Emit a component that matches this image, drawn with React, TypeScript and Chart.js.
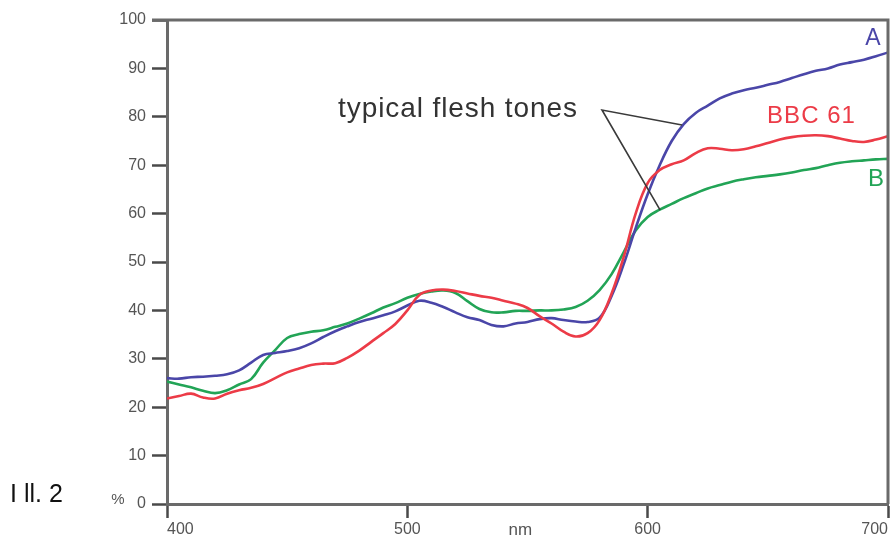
import React, { useEffect, useRef } from 'react';
import { Chart, registerables } from 'chart.js';

Chart.register(...registerables);

// ---- data ----
const wavelengths = [
  400, 405, 410, 415, 420, 425, 430, 435, 440, 445, 450, 455, 460, 465, 470, 475, 480, 485, 490, 495,
  500, 505, 510, 515, 520, 525, 530, 535, 540, 545, 550, 555, 560, 565, 570, 575, 580, 585, 590, 595,
  600, 605, 610, 615, 620, 625, 630, 635, 640, 645, 650, 655, 660, 665, 670, 675, 680, 685, 690, 695, 700,
];

const seriesA = [
  26.0, 25.9, 26.2, 26.3, 26.5, 26.8, 27.6, 29.2, 30.8, 31.2, 31.6, 32.2, 33.2, 34.5, 35.7, 36.7, 37.6, 38.3, 39.0, 39.8,
  41.0, 42.0, 41.6, 40.7, 39.6, 38.6, 38.0, 37.0, 36.7, 37.3, 37.6, 38.2, 38.4, 38.0, 37.7, 37.6, 38.5, 43.0, 49.5, 57.0,
  64.0, 70.0, 75.0, 78.5, 80.8, 82.3, 83.8, 84.8, 85.5, 86.0, 86.6, 87.2, 88.0, 88.8, 89.5, 90.0, 90.8, 91.3, 91.8, 92.5, 93.3,
];

const seriesBBC61 = [
  21.8, 22.3, 22.8, 22.0, 21.8, 22.8, 23.5, 24.0, 24.8, 26.0, 27.2, 28.0, 28.7, 29.0, 29.1, 30.2, 31.7, 33.5, 35.3, 37.2,
  40.0, 43.2, 44.1, 44.3, 44.0, 43.5, 43.0, 42.6, 42.0, 41.4, 40.5, 38.8, 37.3, 35.6, 34.6, 35.3, 38.0, 43.5, 51.0, 60.0,
  66.3, 69.0, 70.2, 71.0, 72.5, 73.5, 73.4, 73.1, 73.3, 73.9, 74.6, 75.3, 75.8, 76.1, 76.2, 76.0, 75.5, 75.0, 74.8, 75.3, 76.0,
];

const seriesB = [
  25.3, 24.7, 24.1, 23.4, 22.9, 23.5, 24.7, 25.8, 29.2, 31.8, 34.3, 35.1, 35.6, 35.9, 36.6, 37.3, 38.3, 39.4, 40.6, 41.5,
  42.6, 43.4, 43.9, 44.1, 43.6, 41.9, 40.3, 39.6, 39.6, 39.9, 39.9, 40.0, 40.0, 40.2, 40.7, 42.0, 44.2, 47.5, 52.0, 56.5,
  59.3, 60.8, 62.0, 63.2, 64.2, 65.2, 65.9, 66.6, 67.1, 67.5, 67.8, 68.1, 68.5, 69.0, 69.4, 70.0, 70.5, 70.8, 71.0, 71.2, 71.3,
];

const xTickValues = [400, 500, 600, 700];
const xUnitLabel = 'nm';
const xUnitValue = 547;
const yUnitLabel = '%';
const figureLabel = 'I ll. 2';
const calloutText = 'typical flesh tones';

// ---- styles ----
const FONT = '"Liberation Sans", Arial, Helvetica, sans-serif';
const BLUE = '#4a46a8';
const RED = '#ec3b47';
const GREEN = '#22a456';
const AXIS = '#6a6a6a';
const TICK = '#4a4a4a';
const LABEL = '#555555';

const decorPlugin = {
  id: 'decor',
  afterDatasetsDraw(chart: any) {
    const { ctx, chartArea, scales } = chart;
    const xs = scales.x;
    const ys = scales.y;
    const px = (v: number) => xs.getPixelForValue(v);
    const py = (v: number) => ys.getPixelForValue(v);
    ctx.save();

    // callout lines
    ctx.strokeStyle = '#3a3a3a';
    ctx.lineWidth = 1.6;
    ctx.beginPath();
    ctx.moveTo(px(614.3), py(78.3));
    ctx.lineTo(px(581), py(81.4));
    ctx.lineTo(px(605.2), py(60.7));
    ctx.stroke();

    ctx.textBaseline = 'alphabetic';
    ctx.textAlign = 'left';
    // callout text
    ctx.fillStyle = '#333333';
    ctx.font = `28px ${FONT}`;
    (ctx as any).letterSpacing = '0.9px';
    ctx.fillText(calloutText, px(471.2), py(80));

    // series labels
    ctx.font = `24px ${FONT}`;
    (ctx as any).letterSpacing = '1px';
    ctx.fillStyle = RED;
    ctx.fillText('BBC 61', px(649.7), py(78.7));
    (ctx as any).letterSpacing = '0px';
    ctx.font = `23px ${FONT}`;
    ctx.fillStyle = BLUE;
    ctx.fillText('A', px(690.5), py(94.8));
    ctx.font = `24px ${FONT}`;
    ctx.fillStyle = GREEN;
    ctx.fillText('B', px(691.7), py(65.7));

    // unit label % and figure label
    ctx.fillStyle = LABEL;
    ctx.font = `15px ${FONT}`;
    ctx.textAlign = 'center';
    ctx.textBaseline = 'middle';
    ctx.fillText(yUnitLabel, chartArea.left - 49, chartArea.bottom - 4);

    ctx.fillStyle = '#111111';
    ctx.font = `25px ${FONT}`;
    ctx.textAlign = 'left';
    ctx.textBaseline = 'alphabetic';
    ctx.fillText(figureLabel, 10, chartArea.bottom - 2);

    ctx.restore();
  },
  afterDraw(chart: any) {
    const { ctx, chartArea } = chart;
    ctx.save();
    ctx.strokeStyle = AXIS;
    ctx.lineWidth = 3;
    ctx.beginPath();
    ctx.moveTo(chartArea.left - 15, chartArea.top);
    ctx.lineTo(chartArea.right, chartArea.top);
    ctx.lineTo(chartArea.right, chartArea.bottom);
    ctx.stroke();
    ctx.restore();
  },
};

export default function App() {
  const canvasRef = useRef<HTMLCanvasElement | null>(null);

  useEffect(() => {
    if (!canvasRef.current) return;
    const mk = (arr: number[]) => wavelengths.map((x, i) => ({ x, y: arr[i] }));
    const chart = new Chart(canvasRef.current, {
      type: 'line',
      data: {
        datasets: [
          { label: 'BBC 61', data: mk(seriesBBC61), borderColor: RED, borderWidth: 2.6, pointRadius: 0, tension: 0.4, fill: false, order: 0 },
          { label: 'A', data: mk(seriesA), borderColor: BLUE, borderWidth: 2.6, pointRadius: 0, tension: 0.4, fill: false, order: 1 },
          { label: 'B', data: mk(seriesB), borderColor: GREEN, borderWidth: 2.6, pointRadius: 0, tension: 0.4, fill: false, order: 2 },
        ],
      },
      options: {
        animation: false,
        responsive: false,
        maintainAspectRatio: false,
        layout: { padding: { left: 0, top: 20, right: 7, bottom: 0 } },
        plugins: { legend: { display: false }, tooltip: { enabled: false } },
        scales: {
          x: {
            type: 'linear',
            min: 400,
            max: 700,
            afterBuildTicks: (scale: any) => {
              scale.ticks = [...xTickValues, xUnitValue].sort((a, b) => a - b).map((v) => ({ value: v }));
            },
            afterFit: (scale: any) => {
              scale.height = 34;
            },
            border: { display: true, color: AXIS, width: 3 },
            grid: {
              drawOnChartArea: false,
              drawTicks: true,
              tickLength: 14,
              tickWidth: 2.5,
              tickColor: (ctx: any) => (ctx.tick && ctx.tick.value === xUnitValue ? 'rgba(0,0,0,0)' : TICK),
            },
            ticks: {
              align: 'inner',
              padding: 2,
              color: LABEL,
              maxRotation: 0,
              autoSkip: false,
              font: (ctx: any) => ({ family: FONT, size: ctx.tick && ctx.tick.value === xUnitValue ? 17 : 16 }),
              callback: (v: any) => (v === xUnitValue ? xUnitLabel : String(v)),
            },
          },
          y: {
            type: 'linear',
            min: 0,
            max: 100,
            afterFit: (scale: any) => {
              scale.width = 167;
            },
            border: { display: true, color: AXIS, width: 3 },
            grid: {
              drawOnChartArea: false,
              drawTicks: true,
              tickLength: 15,
              tickWidth: 2.5,
              tickColor: TICK,
            },
            ticks: {
              stepSize: 10,
              padding: 6,
              color: LABEL,
              font: { family: FONT, size: 16 },
            },
          },
        },
      } as any,
      plugins: [decorPlugin],
    });
    return () => chart.destroy();
  }, []);

  return (
    <div style={{ position: 'absolute', left: 0, top: 0, width: 895, height: 538, background: '#ffffff' }}>
      <canvas ref={canvasRef} width={895} height={538} style={{ width: 895, height: 538, display: 'block' }} />
    </div>
  );
}
